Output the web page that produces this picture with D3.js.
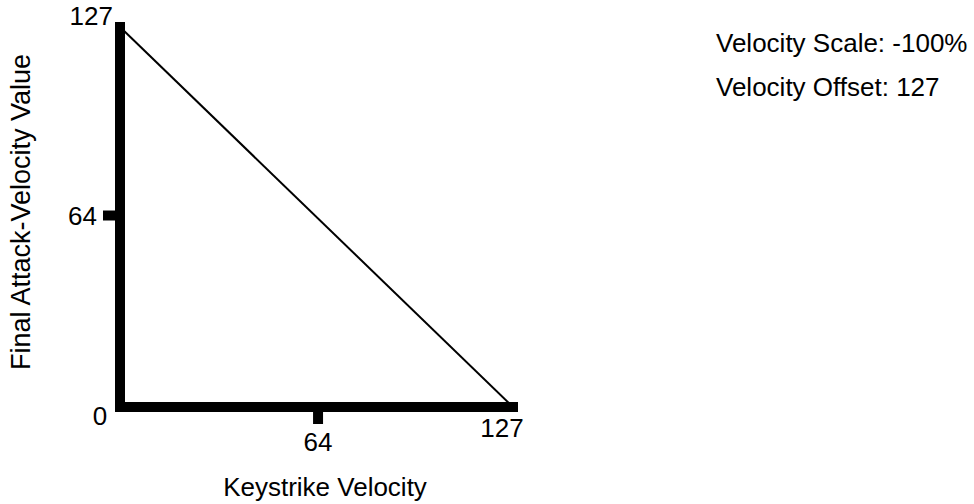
<!DOCTYPE html>
<html>
<head>
<meta charset="utf-8">
<script src="https://cdn.jsdelivr.net/npm/d3@7"></script>
<style>
  body { margin: 0; background: #fff; }
  text { font-family: "Liberation Sans", Arial, sans-serif; fill: #000; }
</style>
</head>
<body>
<div id="chart"></div>
<script>
// 1: DATA
const velocityIn = [0, 127];          // keystrike velocity
const velocityOut = [127, 0];         // final attack-velocity value
const xTicks = [0, 64, 127];
const yTicks = [0, 64, 127];
const infoLines = ["Velocity Scale: -100%", "Velocity Offset: 127"];

// 2: SVG
const W = 974, H = 504;
const svg = d3.select("#chart")
    .append("svg")
    .attr("width", W)
    .attr("height", H);

// 3: SCALES
const x = d3.scaleLinear().domain([0, 127]).range([120, 513]);
const y = d3.scaleLinear().domain([0, 127]).range([407, 27]);

// 4: AXES (thick bars)
const axisW = 10;
svg.append("line")
    .attr("x1", x(0)).attr("x2", x(0))
    .attr("y1", y(127)).attr("y2", y(0))
    .attr("stroke", "#000")
    .attr("stroke-width", axisW)
    .attr("stroke-linecap", "square");

svg.append("line")
    .attr("x1", x(0)).attr("x2", x(127))
    .attr("y1", y(0)).attr("y2", y(0))
    .attr("stroke", "#000")
    .attr("stroke-width", axisW)
    .attr("stroke-linecap", "square");

// tick marks at 64
svg.append("line")
    .attr("x1", x(64)).attr("x2", x(64))
    .attr("y1", y(0)).attr("y2", y(0) + 17)
    .attr("stroke", "#000")
    .attr("stroke-width", axisW);

svg.append("line")
    .attr("x1", x(0)).attr("x2", x(0) - 17)
    .attr("y1", y(64)).attr("y2", y(64))
    .attr("stroke", "#000")
    .attr("stroke-width", axisW);

// 5: DATA LINE
const line = d3.line()
    .x((d, i) => x(velocityIn[i]))
    .y(d => y(d));

svg.append("path")
    .datum(velocityOut)
    .attr("d", line)
    .attr("fill", "none")
    .attr("stroke", "#000")
    .attr("stroke-width", 2);

// 6: TICK LABELS
const fs = 26;
// y ticks
svg.append("text")
    .attr("x", x(0) - 7).attr("y", y(127) - 2)
    .attr("text-anchor", "end")
    .style("font-size", fs + "px")
    .text(yTicks[2]);

svg.append("text")
    .attr("x", x(0) - 23).attr("y", y(64) + 9)
    .attr("text-anchor", "end")
    .style("font-size", fs + "px")
    .text(yTicks[1]);

svg.append("text")
    .attr("x", x(0) - 20).attr("y", y(0) + 18)
    .attr("text-anchor", "middle")
    .style("font-size", fs + "px")
    .text(yTicks[0]);

// x ticks
svg.append("text")
    .attr("x", x(64)).attr("y", y(0) + 44)
    .attr("text-anchor", "middle")
    .style("font-size", fs + "px")
    .text(xTicks[1]);

svg.append("text")
    .attr("x", x(127) - 11).attr("y", y(0) + 30)
    .attr("text-anchor", "middle")
    .style("font-size", fs + "px")
    .text(xTicks[2]);

// 7: AXIS TITLES
svg.append("text")
    .attr("x", 325).attr("y", 496)
    .attr("text-anchor", "middle")
    .style("font-size", fs + "px")
    .text("Keystrike Velocity");

svg.append("text")
    .attr("transform", "translate(30,212) rotate(-90)")
    .attr("text-anchor", "middle")
    .style("font-size", "27px")
    .text("Final Attack-Velocity Value");

// 8: INFO TEXT
svg.selectAll(".info")
    .data(infoLines)
    .enter()
    .append("text")
    .attr("class", "info")
    .attr("x", 716)
    .attr("y", (d, i) => 52 + i * 44)
    .style("font-size", fs + "px")
    .text(d => d);
</script>
</body>
</html>
